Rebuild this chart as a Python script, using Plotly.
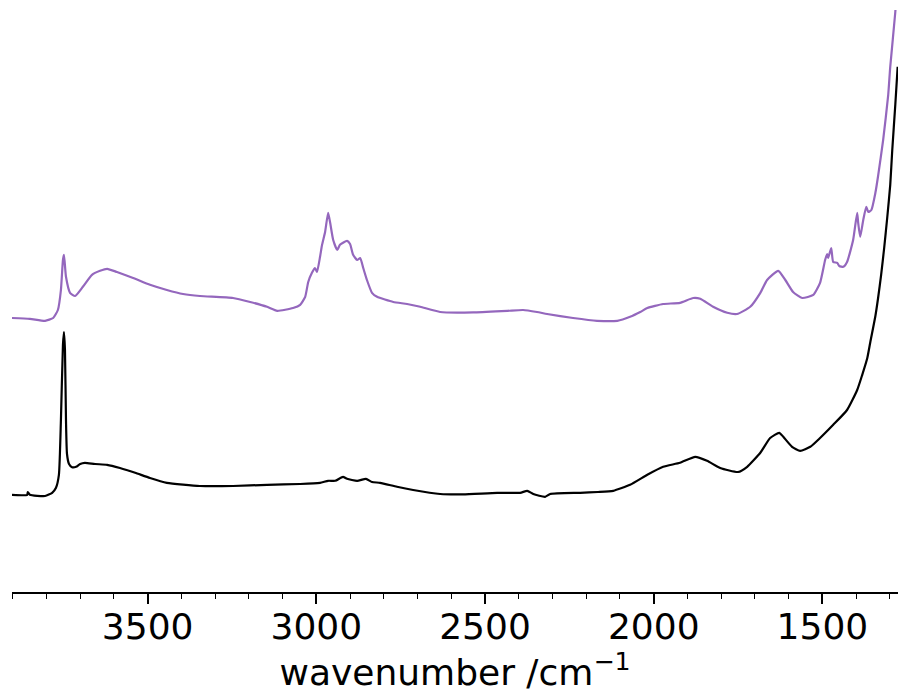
import plotly.graph_objects as go

# Infrared spectra: wavenumber (cm^-1) and absorbance (offset traces)
black_wn = [3902, 3857, 3855, 3849, 3804, 3783, 3772, 3763, 3757, 3751, 3748, 3745, 3742,
            3739, 3733, 3724, 3712, 3700, 3686, 3656, 3620, 3582, 3537, 3493, 3443, 3345,
            3247, 3146, 3048, 2989, 2965, 2944, 2921, 2909, 2879, 2853, 2835, 2811, 2761,
            2713, 2633, 2565, 2464, 2396, 2375, 2357, 2322, 2307, 2218, 2165, 2120, 2070,
            2019, 1972, 1922, 1877, 1842, 1803, 1750, 1723, 1684, 1655, 1628, 1616, 1590,
            1566, 1536, 1507, 1468, 1427, 1397, 1382, 1367, 1358, 1343, 1335, 1326, 1317,
            1308, 1299, 1293, 1284, 1277]
black_abs = [0.243, 0.243, 0.250, 0.243, 0.240, 0.248, 0.260, 0.293, 0.430, 0.618, 0.650,
             0.605, 0.430, 0.345, 0.320, 0.312, 0.313, 0.320, 0.323, 0.320, 0.318, 0.310,
             0.298, 0.285, 0.273, 0.265, 0.265, 0.268, 0.270, 0.273, 0.278, 0.278, 0.288,
             0.283, 0.278, 0.283, 0.275, 0.273, 0.263, 0.255, 0.245, 0.244, 0.248, 0.248,
             0.253, 0.245, 0.238, 0.245, 0.248, 0.250, 0.253, 0.268, 0.293, 0.313, 0.323,
             0.338, 0.328, 0.310, 0.300, 0.313, 0.348, 0.385, 0.398, 0.388, 0.363, 0.353,
             0.363, 0.385, 0.418, 0.455, 0.505, 0.543, 0.585, 0.625, 0.690, 0.735, 0.793,
             0.860, 0.935, 1.018, 1.105, 1.218, 1.313]

purple_wn = [3902, 3849, 3804, 3780, 3766, 3757, 3751, 3748, 3742, 3730, 3715, 3692, 3665,
             3641, 3620, 3591, 3543, 3493, 3443, 3395, 3345, 3247, 3196, 3146, 3116, 3069,
             3048, 3033, 3024, 3013, 3004, 2998, 2989, 2983, 2974, 2965, 2959, 2950, 2938,
             2930, 2909, 2900, 2891, 2879, 2870, 2861, 2850, 2835, 2820, 2772, 2731, 2692,
             2633, 2535, 2434, 2387, 2346, 2316, 2239, 2168, 2108, 2070, 2040, 2019, 1972,
             1922, 1883, 1862, 1824, 1782, 1753, 1714, 1684, 1664, 1631, 1610, 1587, 1560,
             1527, 1507, 1492, 1486, 1483, 1474, 1468, 1456, 1450, 1438, 1427, 1409, 1397,
             1394, 1388, 1379, 1370, 1364, 1355, 1343, 1335, 1320, 1305, 1299, 1284, 1276]
purple_abs = [0.685, 0.683, 0.678, 0.685, 0.705, 0.755, 0.830, 0.843, 0.788, 0.748, 0.740,
              0.763, 0.793, 0.803, 0.808, 0.800, 0.785, 0.768, 0.755, 0.745, 0.740, 0.735,
              0.725, 0.713, 0.703, 0.710, 0.718, 0.738, 0.775, 0.798, 0.810, 0.800, 0.838,
              0.868, 0.900, 0.948, 0.923, 0.880, 0.855, 0.868, 0.878, 0.870, 0.843, 0.830,
              0.835, 0.810, 0.780, 0.748, 0.738, 0.725, 0.720, 0.713, 0.700, 0.699, 0.703,
              0.705, 0.700, 0.695, 0.685, 0.678, 0.678, 0.688, 0.700, 0.710, 0.720, 0.723,
              0.735, 0.733, 0.713, 0.698, 0.695, 0.713, 0.748, 0.780, 0.803, 0.780, 0.750,
              0.735, 0.743, 0.773, 0.830, 0.845, 0.835, 0.860, 0.825, 0.823, 0.815, 0.813,
              0.825, 0.880, 0.948, 0.923, 0.888, 0.930, 0.963, 0.950, 0.955, 0.998, 1.040,
              1.130, 1.243, 1.313, 1.450, 1.560]

major_ticks = [3500, 3000, 2500, 2000, 1500]

fig = go.Figure()
fig.add_trace(go.Scatter(x=black_wn, y=black_abs, mode="lines",
                         line=dict(color="#000000", width=2.2, shape="spline", smoothing=0.5)))
fig.add_trace(go.Scatter(x=purple_wn, y=purple_abs, mode="lines",
                         line=dict(color="#9467bd", width=2.2, shape="spline", smoothing=0.5)))

fig.update_layout(
    width=898, height=696,
    margin=dict(l=12, r=0, t=10, b=104),
    plot_bgcolor="white", paper_bgcolor="white",
    showlegend=False,
    font=dict(family="DejaVu Sans", color="black", size=36),
)
fig.update_xaxes(
    range=[3902, 1276],
    showline=True, linecolor="black", linewidth=2,
    ticks="outside", ticklen=10, tickwidth=1.6, tickcolor="black",
    tickmode="array", tickvals=major_ticks,
    ticktext=[str(v) for v in major_ticks],
    ticklabelstandoff=-8,
    tickfont=dict(size=36, family="DejaVu Sans", color="black"),
    showgrid=False, zeroline=False,
    minor=dict(ticks="outside", ticklen=5, tickwidth=1.2, tickcolor="black",
               dtick=100, tick0=0, showgrid=False),
    title=dict(text="wavenumber /cm<sup>−1</sup>",
               font=dict(size=36, family="DejaVu Sans", color="black"),
               standoff=4),
    automargin=False,
)
fig.update_yaxes(range=[0, 1.455], visible=False, showgrid=False, zeroline=False)

fig.write_html("out.html")
